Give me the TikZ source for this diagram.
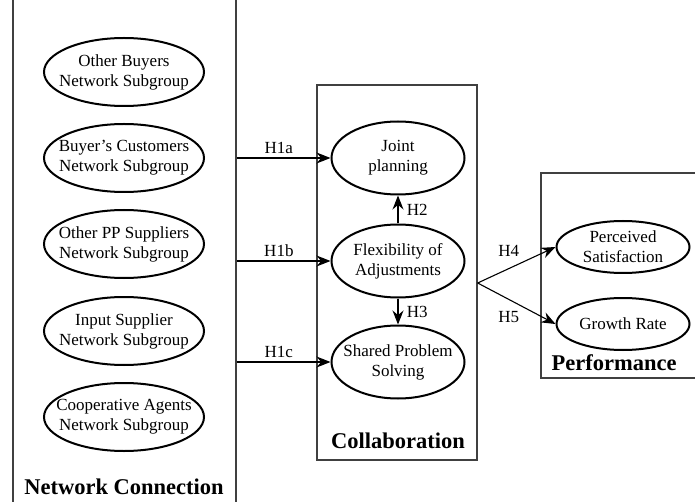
\documentclass[tikz,border=0pt]{standalone}
\usepackage{fontspec}
\setmainfont{Liberation Serif}
\usetikzlibrary{arrows.meta, positioning, shapes.geometric}
\tikzset{
  >={Stealth[length=14pt,width=11pt]},
  construct/.style = {ellipse, draw=black, line width=2pt, inner sep=0pt,
                      minimum width=160pt, minimum height=68pt},
  ctext/.style = {align=center, font=\fontsize{17}{20}\selectfont},
  groupbox/.style = {rectangle, draw=black!75, line width=1.3pt, inner sep=0pt},
  grouplabel/.style = {font=\fontsize{22.5}{25}\selectfont\bfseries},
  hyp/.style = {->, line width=1.1pt},
  hyplabel/.style = {font=\fontsize{17}{20}\selectfont},
}

\begin{document}
\begin{tikzpicture}[x=1pt, y=-1pt]
  \clip (0,0) rectangle (695,502);

  % groups
  \node (netbox) [groupbox, minimum width=223pt, minimum height=520pt] at (124.5,252) {};
  \node (collbox) [groupbox, minimum width=160pt, minimum height=375pt] at (397,272.5) {};
  \node (perfbox) [groupbox, minimum width=169pt, minimum height=205pt] at (625.5,275.5) {};

  % network subgroups
  \node (ob) [construct, label={[ctext]center:{Other Buyers\\Network Subgroup}}] at (124,72) {};
  \node (bc) [construct, label={[ctext]center:{Buyer's Customers\\Network Subgroup}}] at (124,158) {};
  \node (pp) [construct, label={[ctext]center:{Other PP Suppliers\\Network Subgroup}}] at (124,244) {};
  \node (is) [construct, label={[ctext]center:{Input Supplier\\Network Subgroup}}] at (124,331) {};
  \node (ca) [construct, label={[ctext]center:{Cooperative Agents\\Network Subgroup}}] at (124,417) {};

  % collaboration
  \node (jp) [construct, minimum width=133pt, minimum height=73pt,
              label={[ctext]center:{Joint\\planning}}] at (398,158) {};
  \node (fa) [construct, minimum width=133pt, minimum height=73pt,
              label={[ctext]center:{Flexibility of\\Adjustments}}] at (398,261) {};
  \node (sp) [construct, minimum width=133pt, minimum height=73pt,
              label={[ctext]center:{Shared Problem\\Solving}}] at (398,362) {};

  % performance
  \node (ps) [construct, minimum width=133pt, minimum height=52pt,
              label={[ctext]center:{Perceived\\Satisfaction}}] at (623,247) {};
  \node (gr) [construct, minimum width=133pt, minimum height=52pt,
              label={[ctext]center:{Growth Rate}}] at (623,324) {};

  \node [grouplabel] at (124,487) {Network Connection};
  \node [grouplabel] at (398,441) {Collaboration};
  \node [grouplabel] at (614,363) {Performance};

  \coordinate (split) at (collbox.east |- 0,283);

  \draw[hyp] (netbox.east |- jp) -- node[hyplabel, above, pos=0.45]{H1a} (jp.west);
  \draw[hyp] (netbox.east |- fa) -- node[hyplabel, above, pos=0.45]{H1b} (fa.west);
  \draw[hyp] (netbox.east |- sp) -- node[hyplabel, above, pos=0.45]{H1c} (sp.west);
  \draw[hyp] (fa.north) -- node[hyplabel, right=5pt]{H2} (jp.south);
  \draw[hyp] (fa.south) -- node[hyplabel, right=5pt]{H3} (sp.north);
  \draw[hyp] (split) -- node[hyplabel, above=8pt, pos=0.4]{H4} (ps.west);
  \draw[hyp] (split) -- node[hyplabel, below=8pt, pos=0.4]{H5} (gr.west);
\end{tikzpicture}
\end{document}
